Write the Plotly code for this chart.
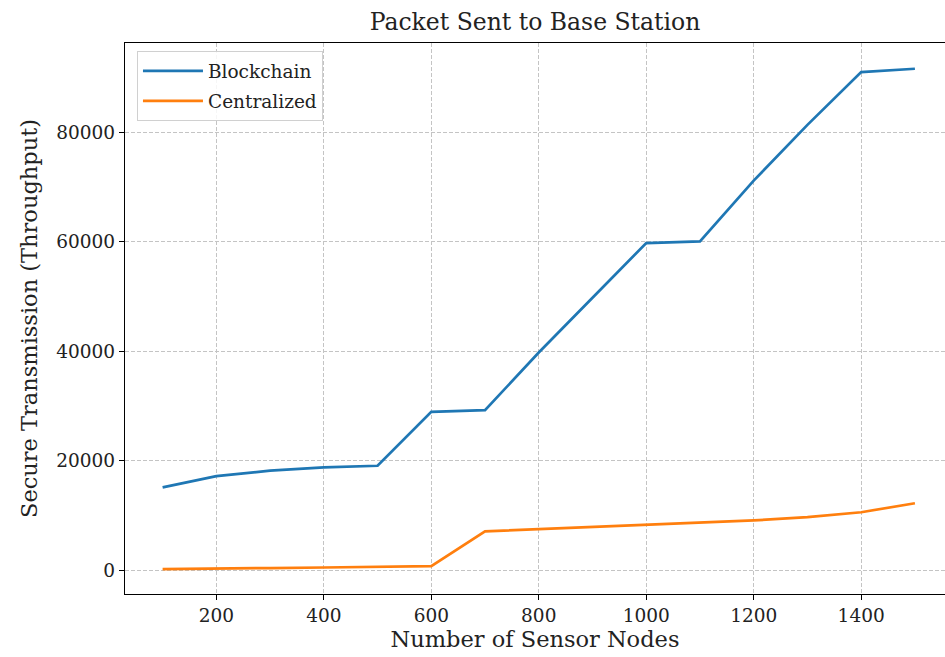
import plotly.graph_objects as go

nodes = [100, 200, 300, 400, 500, 600, 700, 800, 900, 1000, 1100, 1200, 1300, 1400, 1500]
blockchain = [15150, 17200, 18200, 18800, 19100, 28950, 29250, 39800, 49800, 59800, 60100, 71200, 81400, 91050, 91650]
centralized = [200, 350, 400, 500, 600, 750, 7100, 7500, 7800, 8250, 8700, 9100, 9700, 10600, 12250]

x_ticks = [200, 400, 600, 800, 1000, 1200, 1400]
y_ticks = [0, 20000, 40000, 60000, 80000]
y_tick_labels = ["0", "20000", "40000", "60000", "80000"]

FONT = "DejaVu Serif"
TXT = "#222222"

fig = go.Figure()
fig.add_trace(go.Scatter(x=nodes, y=blockchain, mode="lines", name="Blockchain",
                         legendgroup="a", line=dict(color="#1f77b4", width=2.7)))
fig.add_trace(go.Scatter(x=nodes, y=centralized, mode="lines", name="Centralized",
                         legendgroup="b", line=dict(color="#ff7f0e", width=2.7)))

axis_common = dict(
    showline=True, linecolor="black", linewidth=1.3,
    ticks="outside", ticklen=5, tickwidth=1.2, tickcolor="black",
    showgrid=True, gridcolor="#c4c4c4", griddash="4px,2px", gridwidth=0.8,
    zeroline=False, tickfont=dict(family=FONT, size=18.5, color=TXT),
)

fig.update_layout(
    width=945, height=657,
    margin=dict(l=125, r=0, t=43, b=63),
    paper_bgcolor="white", plot_bgcolor="white",
    title=dict(text="Packet Sent to Base Station", x=0.5, xref="paper", xanchor="center",
               y=1, yref="paper", yanchor="bottom", pad=dict(b=13),
               font=dict(family=FONT, size=23.5, color=TXT)),
    xaxis=dict(range=[30, 1556], tickvals=x_ticks, mirror=True,
               title=dict(text="Number of Sensor Nodes", standoff=2,
                          font=dict(family=FONT, size=22.5, color=TXT)),
               **axis_common),
    yaxis=dict(range=[-4340, 96360], tickvals=y_ticks, ticktext=y_tick_labels, mirror=False,
               title=dict(text="Secure Transmission (Throughput)", standoff=12,
                          font=dict(family=FONT, size=22.5, color=TXT)),
               **axis_common),
    legend=dict(x=0.0146, y=0.985, xanchor="left", yanchor="top",
                bgcolor="rgba(255,255,255,0.85)", bordercolor="#d0d0d0", borderwidth=1,
                font=dict(family=FONT, size=18.5, color=TXT), itemwidth=60,
                tracegroupgap=3),
    showlegend=True,
)

fig.write_html("out.html")
